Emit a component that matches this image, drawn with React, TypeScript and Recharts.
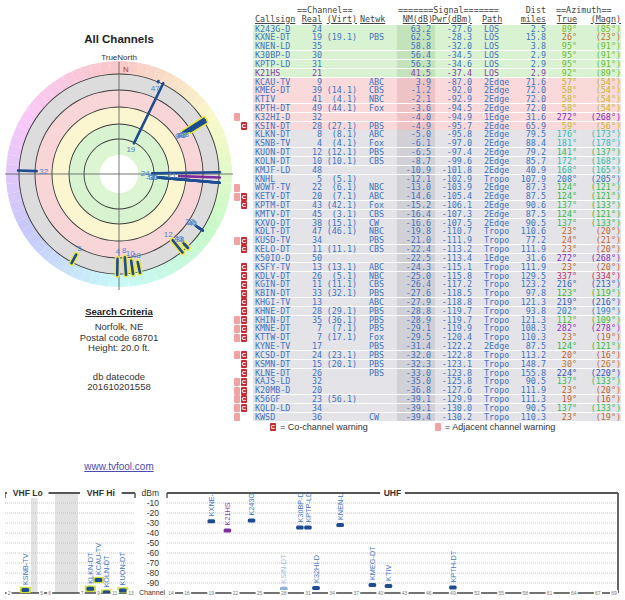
import React from 'react'
import {
  ScatterChart, Scatter, XAxis, YAxis, ReferenceLine, ReferenceArea, ReferenceDot,
  PieChart, Pie, Cell,
} from 'recharts'

// report rows, strongest noise margin first
const CALLSIGNS = ['K243G-D', 'KXNE-DT', 'KNEN-LD', 'K30BP-D', 'KPTP-LD', 'K21HS', 'KCAU-TV', 'KMEG-DT', 'KTIV', 'KPTH-DT', 'K32HI-D', 'KSIN-DT', 'KLKN-DT', 'KSNB-TV', 'KUON-DT', 'KOLN-DT', 'KMJF-LD', 'KNHL', 'WOWT-TV', 'KETV-DT', 'KPTM-DT', 'KMTV-DT', 'KXVO-DT', 'KDLT-DT', 'KUSD-TV', 'KELO-DT', 'K50IO-D', 'KSFY-TV', 'KDLV-DT', 'KGIN-DT', 'KBIN-DT', 'KHGI-TV', 'KHNE-DT', 'KHIN-DT', 'KMNE-DT', 'KTTW-DT', 'KYNE-TV', 'KCSD-DT', 'KSMN-DT', 'KLNE-DT', 'KAJS-LD', 'K20MB-D', 'K56GF', 'KQLD-LD', 'KWSD']
const REAL_CH = [24, 19, 35, 30, 31, 21, 9, 39, 41, 49, 32, 28, 8, 4, 12, 10, 48, 5, 22, 20, 43, 45, 38, 47, 34, 11, 50, 13, 26, 11, 33, 13, 28, 35, 7, 7, 17, 24, 15, 26, 32, 20, 23, 34, 36]
const VIRT_CH = ['', '19.1', '', '', '', '', '', '14.1', '4.1', '44.1', '', '27.1', '8.1', '4.1', '12.1', '10.1', '', '5.1', '6.1', '7.1', '42.1', '3.1', '15.1', '46.1', '', '11.1', '', '13.1', '5.1', '11.1', '32.1', '', '29.1', '36.1', '7.1', '17.1', '', '23.1', '20.1', '', '', '', '56.1', '', '']
const NETWORKS = ['', 'PBS', '', '', '', '', 'ABC', 'CBS', 'NBC', 'Fox', '', 'PBS', 'ABC', 'Fox', 'PBS', 'CBS', '', '', 'NBC', 'ABC', 'Fox', 'CBS', 'CW', 'NBC', 'PBS', 'CBS', '', 'ABC', 'NBC', 'CBS', 'PBS', 'ABC', 'PBS', 'PBS', 'PBS', 'Fox', 'PBS', 'PBS', 'PBS', 'PBS', '', '', '', '', 'CW']
const NM_DB = [63.2, 62.5, 58.8, 56.4, 56.3, 41.5, 3.9, -1.2, -2.1, -3.6, -4.0, -4.9, -5.0, -6.1, -6.5, -8.7, -10.9, -12.1, -13.0, -14.6, -15.2, -16.4, -16.6, -19.8, -21.0, -22.4, -22.5, -24.3, -25.0, -26.4, -27.6, -27.9, -28.8, -28.9, -29.1, -29.5, -31.4, -32.0, -32.3, -33.0, -35.0, -36.8, -39.1, -39.1, -39.4]
const PWR_DBM = [-27.6, -28.3, -32.0, -34.5, -34.6, -37.4, -87.0, -92.0, -92.9, -94.5, -94.9, -95.7, -95.8, -97.0, -97.4, -99.6, -101.8, -102.9, -103.9, -105.4, -106.1, -107.3, -107.5, -110.7, -111.9, -113.2, -113.4, -115.1, -115.8, -117.2, -118.5, -118.8, -119.7, -119.7, -119.9, -120.4, -122.2, -122.8, -123.1, -123.8, -125.8, -127.6, -129.9, -130.0, -130.2]
const PATHS = ['LOS', 'LOS', 'LOS', 'LOS', 'LOS', 'LOS', '2Edge', '2Edge', '2Edge', '2Edge', '1Edge', '2Edge', '2Edge', '2Edge', '2Edge', '2Edge', '2Edge', 'Tropo', '2Edge', '2Edge', '2Edge', '2Edge', '2Edge', 'Tropo', 'Tropo', 'Tropo', '1Edge', 'Tropo', 'Tropo', 'Tropo', 'Tropo', 'Tropo', 'Tropo', 'Tropo', 'Tropo', 'Tropo', '2Edge', 'Tropo', 'Tropo', 'Tropo', 'Tropo', 'Tropo', 'Tropo', 'Tropo', 'Tropo']
const DIST_MI = [2.5, 15.8, 3.8, 2.9, 2.9, 2.9, 71.6, 72.0, 72.0, 72.0, 31.6, 65.9, 79.5, 88.4, 79.2, 85.7, 40.9, 107.9, 87.3, 87.5, 90.6, 87.5, 90.5, 110.6, 77.2, 111.9, 31.6, 111.9, 129.5, 123.2, 97.8, 121.3, 93.8, 121.3, 108.3, 110.3, 87.5, 113.2, 148.7, 155.8, 90.5, 111.9, 111.3, 90.5, 110.3]
const AZ_TRUE = [89, 26, 95, 95, 95, 92, 57, 58, 58, 58, 272, 59, 176, 181, 141, 172, 168, 208, 124, 124, 137, 124, 137, 23, 24, 23, 272, 23, 337, 216, 123, 219, 202, 112, 282, 23, 124, 20, 30, 224, 137, 23, 19, 137, 23]
const AZ_MAGN = [85, 23, 91, 91, 91, 89, 54, 54, 54, 54, 268, 56, 173, 178, 137, 168, 165, 205, 121, 121, 133, 121, 133, 20, 21, 20, 268, 20, 334, 213, 119, 216, 199, 109, 278, 19, 121, 16, 26, 220, 133, 20, 16, 133, 19]
const ADJ_WARN = ['K32HI-D', 'WOWT-TV', 'KETV-DT', 'KUSD-TV', 'KHIN-DT', 'KMNE-DT', 'KTTW-DT', 'KCSD-DT', 'KAJS-LD', 'K20MB-D', 'K56GF', 'KQLD-LD', 'KWSD']
const CO_WARN = ['KSIN-DT', 'KETV-DT', 'KPTM-DT', 'KUSD-TV', 'KELO-DT', 'KSFY-TV', 'KDLV-DT', 'KGIN-DT', 'KBIN-DT', 'KHGI-TV', 'KHNE-DT', 'KHIN-DT', 'KMNE-DT', 'KTTW-DT', 'KCSD-DT', 'KSMN-DT', 'KLNE-DT', 'KAJS-LD', 'K20MB-D', 'K56GF', 'KQLD-LD']
const ANALOG = ['K21HS']

const UHF_TICKS = [14, 16, 19, 22, 25, 28, 31, 34, 37, 40, 43, 46, 49, 52, 55, 58, 61, 64, 67, 69]
const VHF_TICKS = [2, 5, 6, 7, 9, 11, 13]
const DBM_TICKS = [0, -10, -20, -30, -40, -50, -60, -70, -80, -90]

const BLUE = '#3f74c2'
const PURPLE = '#8a3dab'
const MARK = '#1d4c92'
const SANS = '"Liberation Sans", Arial, sans-serif'
const MONO = '"DejaVu Sans Mono", monospace'

const azColor = (deg: number) => `hsl(${deg}, 58%, 47%)`

// ---------- polar plot ----------
// radius scale: noise margin (dB) -> px from centre
const NM_STOPS = [70, 60, 40, 0, -20]
const R_STOPS = [25, 37, 62, 78, 100]
function radiusOf(nm: number) {
  if (nm >= NM_STOPS[0]) return R_STOPS[0]
  for (let k = 1; k < NM_STOPS.length; k++) {
    if (nm >= NM_STOPS[k]) {
      const t = (NM_STOPS[k - 1] - nm) / (NM_STOPS[k - 1] - NM_STOPS[k])
      return R_STOPS[k - 1] + t * (R_STOPS[k] - R_STOPS[k - 1])
    }
  }
  return R_STOPS[R_STOPS.length - 1]
}
const polarXY = (r: number, deg: number) => {
  const a = (deg * Math.PI) / 180
  return { x: r * Math.sin(a), y: r * Math.cos(a) }
}

const BANDS = [
  { inner: 84, outer: 100, fill: '#dcdcdc' },
  { inner: 67, outer: 84, fill: '#f8d6d8' },
  { inner: 50, outer: 67, fill: '#fbf6d0' },
  { inner: 35, outer: 50, fill: '#d8f3cf' },
  { inner: 19, outer: 35, fill: '#dcf5d3' },
  { inner: 0, outer: 19, fill: '#ffffff' },
]
const RINGS = [100, 84, 67, 50, 35]

function PolarPlot() {
  const hue = Array.from({ length: 72 }, (_, i) => ({ v: 1, deg: i * 5 + 2.5 }))
  const plotted = CALLSIGNS.map((c, i) => i).filter(i => NM_DB[i] >= -20)
  const segs = plotted.map(i => {
    const r0 = radiusOf(NM_DB[i])
    return {
      i,
      a: polarXY(r0, AZ_TRUE[i]),
      b: polarXY(101, AZ_TRUE[i]),
      halo: (PATHS[i] === '2Edge' || PATHS[i] === 'Tropo') && NM_DB[i] > -17 && AZ_TRUE[i] !== 124,
      color: ANALOG.includes(CALLSIGNS[i]) ? '#7b2d9c' : MARK,
    }
  })
  const labels = plotted.map(i => ({ ...polarXY(radiusOf(NM_DB[i]) - 7, AZ_TRUE[i]), ch: REAL_CH[i] }))

  return (
    <div style={{ position: 'absolute', left: 0, top: 55, width: 238, height: 238 }}>
      <PieChart width={238} height={238} margin={{ top: 0, right: 0, bottom: 0, left: 0 }}>
        <Pie data={hue} dataKey="v" cx={119} cy={119} innerRadius={99} outerRadius={113} startAngle={90} endAngle={-270} stroke="none" isAnimationActive={false}>
          {hue.map((h, k) => <Cell key={k} fill={`hsl(${h.deg}, 80%, 88%)`} />)}
        </Pie>
        {BANDS.map(b => (
          <Pie key={b.outer} data={[{ v: 1 }]} dataKey="v" cx={119} cy={119} innerRadius={b.inner} outerRadius={b.outer} fill={b.fill} stroke="none" isAnimationActive={false} />
        ))}
        {RINGS.map(r => (
          <Pie key={'ring' + r} data={[{ v: 1 }]} dataKey="v" cx={119} cy={119} innerRadius={r - 0.45} outerRadius={r + 0.45} fill="#3a3a3a" stroke="none" isAnimationActive={false} />
        ))}
      </PieChart>
      <div style={{ position: 'absolute', left: 0, top: 0 }}>
        <ScatterChart width={238} height={238} margin={{ top: 0, right: 0, bottom: 0, left: 0 }}>
          <XAxis type="number" dataKey="x" domain={[-119, 119]} allowDataOverflow hide />
          <YAxis type="number" dataKey="y" domain={[-119, 119]} allowDataOverflow hide />
          <ReferenceLine segment={[{ x: -114, y: 0 }, { x: 114, y: 0 }]} stroke="#555" strokeWidth={0.8} />
          <ReferenceLine segment={[{ x: 0, y: -116 }, { x: 0, y: 112 }]} stroke="#555" strokeWidth={0.8} />
          {segs.filter(s => s.halo).map(s => (
            <ReferenceLine key={'h' + s.i} segment={[s.a, s.b]} stroke="#ece63e" strokeWidth={5.5} strokeLinecap="round" />
          ))}
          {segs.map(s => (
            <ReferenceLine key={'s' + s.i} segment={[s.a, s.b]} stroke={s.color} strokeWidth={2.6} strokeLinecap="round" />
          ))}
          <Scatter
            data={labels}
            isAnimationActive={false}
            shape={(p: any) => (
              <text x={p.cx} y={p.cy} textAnchor="middle" dominantBaseline="central" fontSize={8} fontFamily={SANS} fill="#4a84cc">{p.payload.ch}</text>
            )}
          />
        </ScatterChart>
      </div>
    </div>
  )
}

// ---------- table ----------
const ROW_TOP = 24.6
const ROW_H = 8.82
const COL = { call: 255, real: 322, virt: 357, net: 369, nm: 431, pwr: 472, path: 484, dist: 546, azT: 577, azM: 621 }

function Cell2({ x, right, color, children, underline }: any) {
  const pos = right ? { right: 625 - x } : { left: x }
  return (
    <span style={{ position: 'absolute', top: 0, ...pos, color, whiteSpace: 'pre', textDecoration: underline ? 'underline' : 'none' }}>{children}</span>
  )
}

function WarnIcon({ x, y, co }: any) {
  return (
    <div style={{ position: 'absolute', left: x, top: y, width: 6, height: 8, background: co ? '#c62a2f' : '#f1a3a3', borderRadius: 1, color: '#fff', fontSize: 6, lineHeight: '8px', textAlign: 'center', fontFamily: SANS, fontWeight: 700 }}>{co ? 'C' : ''}</div>
  )
}

function StationTable() {
  return (
    <div style={{ position: 'absolute', left: 0, top: 0, width: 625, height: 440, fontFamily: MONO, fontSize: 8.4 }}>
      <div style={{ position: 'absolute', left: 0, top: 5.6, width: 625, height: ROW_H, lineHeight: `${ROW_H}px`, color: '#444' }}>
        <Cell2 x={297}>==Channel==</Cell2>
        <Cell2 x={398}>=======Signal=======</Cell2>
        <Cell2 x={COL.dist} right>Dist</Cell2>
        <Cell2 x={556}>==Azimuth==</Cell2>
      </div>
      <div style={{ position: 'absolute', left: 0, top: 14.6, width: 625, height: ROW_H, lineHeight: `${ROW_H}px`, color: '#444' }}>
        <Cell2 x={COL.call} underline>Callsign</Cell2>
        <Cell2 x={COL.real} right underline>Real</Cell2>
        <Cell2 x={COL.virt} right underline>(Virt)</Cell2>
        <Cell2 x={360} underline>Netwk</Cell2>
        <Cell2 x={COL.nm + 2} right underline>NM(dB)</Cell2>
        <Cell2 x={COL.pwr} right underline>Pwr(dBm)</Cell2>
        <Cell2 x={482} underline>Path</Cell2>
        <Cell2 x={COL.dist} right underline>miles</Cell2>
        <Cell2 x={COL.azT} right underline>True</Cell2>
        <Cell2 x={COL.azM} right underline>(Magn)</Cell2>
      </div>
      {CALLSIGNS.map((call, i) => {
        const nm = NM_DB[i]
        const bg = nm > 10 ? '#d9f2d2' : nm > -5 ? '#f9d9da' : '#e3e3e8'
        const shade = nm > 10 ? '#c4e3bb' : nm > -5 ? '#edc3c5' : '#d0d0d6'
        const txt = ANALOG.includes(call) ? PURPLE : BLUE
        const top = ROW_TOP + i * ROW_H
        return (
          <div key={call} style={{ position: 'absolute', left: 0, top, width: 625, height: ROW_H, lineHeight: `${ROW_H}px` }}>
            <div style={{ position: 'absolute', left: 253, top: 0, width: 368, height: ROW_H - 0.6, background: bg }} />
            <div style={{ position: 'absolute', left: 397, top: 0, width: 38, height: ROW_H - 0.6, background: shade }} />
            {ADJ_WARN.includes(call) && <WarnIcon x={234} y={0.4} />}
            {CO_WARN.includes(call) && <WarnIcon x={241} y={0.4} co />}
            <Cell2 x={COL.call} color={txt}>{call}</Cell2>
            <Cell2 x={COL.real} right color={txt}>{String(REAL_CH[i])}</Cell2>
            <Cell2 x={COL.virt} right color={txt}>{VIRT_CH[i] ? `(${VIRT_CH[i]})` : ''}</Cell2>
            <Cell2 x={COL.net} color={txt}>{NETWORKS[i]}</Cell2>
            <Cell2 x={COL.nm} right color={txt}>{nm.toFixed(1)}</Cell2>
            <Cell2 x={COL.pwr} right color={txt}>{PWR_DBM[i].toFixed(1)}</Cell2>
            <Cell2 x={COL.path} color={txt}>{PATHS[i]}</Cell2>
            <Cell2 x={COL.dist} right color={txt}>{DIST_MI[i].toFixed(1)}</Cell2>
            <Cell2 x={COL.azT} right color={azColor(AZ_TRUE[i])}>{`${AZ_TRUE[i]}°`}</Cell2>
            <Cell2 x={COL.azM} right color={azColor(AZ_TRUE[i])}>{`(${AZ_MAGN[i]}°)`}</Cell2>
          </div>
        )
      })}
      <WarnIcon x={270} y={423} co />
      <div style={{ position: 'absolute', left: 280, top: 421, fontFamily: SANS, fontSize: 9, lineHeight: '12px', color: '#333' }}>= Co-channel warning</div>
      <WarnIcon x={435} y={423} />
      <div style={{ position: 'absolute', left: 445, top: 421, fontFamily: SANS, fontSize: 9, lineHeight: '12px', color: '#333' }}>= Adjacent channel warning</div>
    </div>
  )
}

// ---------- spectrum panels ----------
// VHF channels laid out with the 72-76 MHz gap and the FM gap compressed
const vhfSlot = (ch: number) => (ch <= 4 ? ch - 1.5 : ch <= 6 ? ch - 0.5 : ch + 2.5)

const spectrum = CALLSIGNS.map((c, i) => i).filter(i => PWR_DBM[i] >= -100).map(i => ({
  call: CALLSIGNS[i],
  ch: REAL_CH[i],
  y: PWR_DBM[i],
  analog: ANALOG.includes(CALLSIGNS[i]),
  faded: CO_WARN.includes(CALLSIGNS[i]),
}))
const uhfPoints = spectrum.filter(s => s.ch >= 14).map(s => ({ ...s, x: s.ch, halo: false }))
const vhfPoints = spectrum.filter(s => s.ch < 14).map(s => ({ ...s, x: vhfSlot(s.ch), halo: true }))

const SpectrumMark = (p: any) => {
  const { cx, cy, payload } = p
  const text = payload.analog ? PURPLE : payload.faded ? '#9cbde4' : BLUE
  const fill = payload.analog ? '#7b2d9c' : payload.faded ? '#8fb2dc' : MARK
  return (
    <g>
      {payload.halo && <rect x={cx - 5.5} y={cy - 3.2} width={11} height={6.4} fill="#cddc39" />}
      <rect x={cx - 3.8} y={cy - 2} width={7.6} height={4} rx={1.5} fill={fill} />
      <text transform={`rotate(-90 ${cx} ${cy - 5})`} x={cx} y={cy - 5} dy="0.36em" fontSize={7.3} fontFamily={SANS} fill={text}>{payload.call}</text>
    </g>
  )
}

const ChannelTick = (p: any) => {
  const { x, y, payload, labelOf } = p
  const label = String(labelOf ? labelOf(payload.value) : payload.value)
  const w = label.length * 3 + 2
  return (
    <g>
      <rect x={x - w / 2} y={y - 3} width={w} height={6} fill="#fff" />
      <text x={x} y={y} textAnchor="middle" dominantBaseline="central" fontSize={5} fontFamily={SANS} fill="#777">{label}</text>
    </g>
  )
}

const BandTitle = (text: string) => (p: any) => {
  const w = text.length * 5.6 + 8
  return (
    <g>
      <rect x={p.cx - w / 2} y={p.cy - 5} width={w} height={10} fill="#fff" />
      <text x={p.cx} y={p.cy} textAnchor="middle" dominantBaseline="central" fontSize={8.6} fontWeight={700} fontFamily={SANS} fill="#333">{text}</text>
    </g>
  )
}

const GRID_VALUES = DBM_TICKS.filter(v => v < 0)

function VhfPanel() {
  return (
    <div style={{ position: 'absolute', left: 5, top: 481 }}>
      <ScatterChart width={131} height={120} margin={{ top: 12, right: 1, bottom: 0, left: 0 }}>
        <XAxis
          type="number" dataKey="x" domain={[0, 16]} allowDataOverflow ticks={VHF_TICKS.map(vhfSlot)} interval={0}
          height={8} tickSize={0} tickMargin={0} tickLine={false} axisLine={{ stroke: '#444', strokeWidth: 1.4 }}
          tick={(p: any) => <ChannelTick {...p} labelOf={(v: number) => VHF_TICKS.find(c => vhfSlot(c) === v)} />}
        />
        <YAxis type="number" dataKey="y" domain={[-100, 0]} allowDataOverflow hide />
        <ReferenceArea x1={3.2} x2={4.0} y1={-100} y2={0} fill="#e2e2e2" fillOpacity={1} stroke="none" />
        <ReferenceArea x1={6.15} x2={9.0} y1={-100} y2={0} fill="#e2e2e2" fillOpacity={1} stroke="none" />
        {GRID_VALUES.map(v => <ReferenceLine key={v} y={v} stroke="#c4c4c4" strokeDasharray="1 1" />)}
        <ReferenceLine segment={[{ x: 0, y: 0 }, { x: 16, y: 0 }]} stroke="#555" strokeWidth={2} />
        <ReferenceLine segment={[{ x: 0, y: 0 }, { x: 0, y: -5 }]} stroke="#555" strokeWidth={1.5} />
        <ReferenceLine segment={[{ x: 16, y: 0 }, { x: 16, y: -5 }]} stroke="#555" strokeWidth={1.5} />
        <ReferenceDot x={2.8} y={0} r={0} shape={BandTitle('VHF Lo')} />
        <ReferenceDot x={11.8} y={0} r={0} shape={BandTitle('VHF Hi')} />
        <Scatter data={vhfPoints} shape={SpectrumMark} isAnimationActive={false} />
      </ScatterChart>
    </div>
  )
}

function UhfPanel() {
  return (
    <div style={{ position: 'absolute', left: 137, top: 481 }}>
      <ScatterChart width={485} height={120} margin={{ top: 12, right: 4, bottom: 0, left: 0 }}>
        <XAxis
          type="number" dataKey="x" domain={[13.5, 69.5]} allowDataOverflow ticks={UHF_TICKS} interval={0}
          height={8} tickSize={0} tickMargin={0} tickLine={false} axisLine={{ stroke: '#444', strokeWidth: 1.4 }}
          tick={(p: any) => <ChannelTick {...p} />}
        />
        <YAxis
          type="number" dataKey="y" domain={[-100, 0]} allowDataOverflow ticks={DBM_TICKS} interval={0} width={30}
          axisLine={false} tickLine={false} tick={{ fontSize: 8.5, fill: '#333', fontFamily: SANS }}
          tickFormatter={(v: number) => (v === 0 ? 'dBm' : String(v))}
        />
        {GRID_VALUES.map(v => <ReferenceLine key={v} y={v} stroke="#c4c4c4" strokeDasharray="1 1" />)}
        <ReferenceLine segment={[{ x: 13.5, y: 0 }, { x: 69.5, y: 0 }]} stroke="#555" strokeWidth={2} />
        <ReferenceLine segment={[{ x: 13.5, y: 0 }, { x: 13.5, y: -5 }]} stroke="#555" strokeWidth={1.5} />
        <ReferenceLine segment={[{ x: 69.5, y: 0 }, { x: 69.5, y: -100 }]} stroke="#555" strokeWidth={1.8} />
        <ReferenceDot x={41.5} y={0} r={0} shape={BandTitle('UHF')} />
        <Scatter data={uhfPoints} shape={SpectrumMark} isAnimationActive={false} />
      </ScatterChart>
    </div>
  )
}

export default function App() {
  const line = (top: number, text: string, extra: any = {}) => (
    <div style={{ position: 'absolute', left: 0, width: 238, top, textAlign: 'center', fontSize: 9.5, lineHeight: '11px', color: '#333', ...extra }}>{text}</div>
  )
  return (
    <div style={{ position: 'absolute', left: 0, top: 0, width: 625, height: 600, background: '#fff', fontFamily: SANS, overflow: 'hidden' }}>
      {line(33, 'All Channels', { fontSize: 11.5, fontWeight: 700, lineHeight: '12px', color: '#222' })}
      {line(52, 'TrueNorth', { fontSize: 8 })}
      <PolarPlot />
      <div style={{ position: 'absolute', left: 123, top: 64.5, fontSize: 8, lineHeight: '10px', color: '#c0392b' }}>N</div>
      {line(305.5, 'Search Criteria', { fontWeight: 700, textDecoration: 'underline', color: '#222' })}
      {line(321, 'Norfolk, NE')}
      {line(331.5, 'Postal code 68701')}
      {line(342, 'Height: 20.0 ft.')}
      {line(370.5, 'db datecode')}
      {line(381, '201610201558')}
      <StationTable />
      <div style={{ position: 'absolute', left: 0, width: 238, top: 461, textAlign: 'center', fontSize: 10, lineHeight: '12px', color: '#4b4bb0', textDecoration: 'underline' }}>www.tvfool.com</div>
      <VhfPanel />
      <UhfPanel />
      <div style={{ position: 'absolute', left: 139, top: 589, fontSize: 7, lineHeight: '8px', color: '#333' }}>Channel</div>
    </div>
  )
}
